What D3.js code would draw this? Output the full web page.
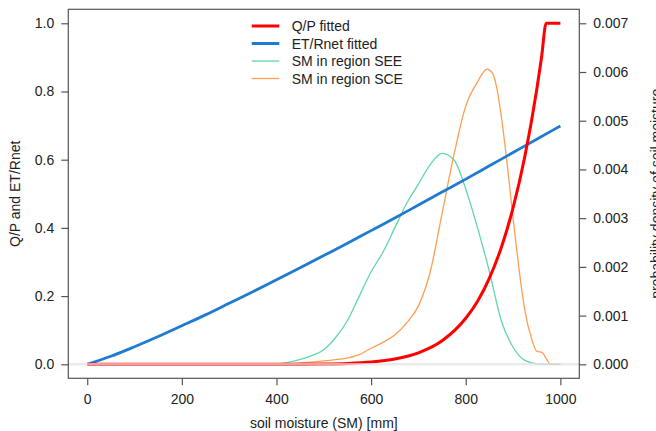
<!DOCTYPE html>
<html><head><meta charset="utf-8">
<script src="https://cdn.jsdelivr.net/npm/d3@7"></script>
<style>
html,body{margin:0;padding:0;background:#fff;overflow:hidden;}
svg{display:block;font-family:"Liberation Sans",Arial,Helvetica,sans-serif;}
</style></head>
<body>
<svg id="chart" width="656" height="431"></svg>
<script>
// ---- data ----
const qpSM  = [0, 100, 200, 300, 400, 450, 500, 550, 600, 650, 700, 750, 800, 825, 850, 875, 900, 925, 950, 960, 970, 1000];
const qpVal = [0, 0, 0, 0, 0.0001, 0.0003, 0.001, 0.0027, 0.0068, 0.0156, 0.0336, 0.069, 0.135, 0.185, 0.253, 0.342, 0.459, 0.61, 0.805, 0.898, 1.0, 1.0];

const etSM  = [0, 50, 100, 150, 200, 250, 300, 350, 400, 450, 500, 550, 600, 650, 700, 750, 800, 850, 900, 950, 1000];
const etVal = [0, 0.0235, 0.0515, 0.0814, 0.113, 0.145, 0.179, 0.213, 0.248, 0.283, 0.319, 0.355, 0.392, 0.429, 0.467, 0.505, 0.543, 0.582, 0.621, 0.660, 0.699];

const seeSM  = [0, 350, 400, 425, 450, 475, 500, 525, 550, 575, 600, 625, 650, 675, 700, 725, 750, 775, 800, 825, 850, 875, 900, 925, 950, 975, 1000];
const seeVal = [0, 0, 0.00001, 0.00004, 0.0001, 0.00018, 0.0003, 0.00055, 0.0009, 0.0014, 0.0019, 0.0023, 0.0028, 0.0033, 0.0037, 0.0041, 0.00433, 0.0042, 0.0036, 0.0028, 0.0019, 0.0009, 0.00035, 0.00008, 0.00001, 0, 0];

const sceSM  = [0, 400, 450, 500, 550, 575, 600, 625, 650, 675, 700, 725, 750, 775, 800, 825, 845, 855, 865, 875, 890, 900, 912, 925, 940, 950, 962, 970, 978, 1000];
const sceVal = [0, 0, 0.00003, 0.00007, 0.00013, 0.0002, 0.00033, 0.00045, 0.0006, 0.00085, 0.0012, 0.0019, 0.0031, 0.0043, 0.0053, 0.0058, 0.00606, 0.006, 0.0057, 0.0051, 0.0039, 0.003, 0.002, 0.0011, 0.0005, 0.00027, 0.00024, 0.00012, 0.00001, 0];

const xTicks = [0, 200, 400, 600, 800, 1000];
const yLTicks = [0, 0.2, 0.4, 0.6, 0.8, 1.0];
const yRTicks = [0, 0.001, 0.002, 0.003, 0.004, 0.005, 0.006, 0.007];

const legendLabels = ["Q/P fitted", "ET/Rnet fitted", "SM in region SEE", "SM in region SCE"];
const colors = {qp: "#ff0000", et: "#1f7ad2", see: "#62d6a8", sce: "#ff9d55"};

// ---- layout ----
const box = {left: 68.3, right: 579.3, top: 9.3, bottom: 378.3};
const x = d3.scaleLinear().domain([-40, 1040]).range([box.left, box.right]);
const yL = d3.scaleLinear().domain([-0.041, 1.041]).range([box.bottom, box.top]);
const yR = d3.scaleLinear().domain([-0.041 * 0.007, 1.041 * 0.007]).range([box.bottom, box.top]);

const svg = d3.select("#chart");
const fs = 14;
const axisColor = "#555";

function series(xs, ys) { return xs.map((v, i) => [v, ys[i]]); }

const lineL = d3.line().x(d => x(d[0])).y(d => yL(d[1])).curve(d3.curveMonotoneX);
const lineR = d3.line().x(d => x(d[0])).y(d => yR(d[1])).curve(d3.curveMonotoneX);

const plot = svg.append("g");
plot.append("path").datum(series(seeSM, seeVal)).attr("d", lineR)
  .attr("fill", "none").attr("stroke", colors.see).attr("stroke-width", 1.3);
plot.append("path").datum(series(sceSM, sceVal)).attr("d", lineR)
  .attr("fill", "none").attr("stroke", colors.sce).attr("stroke-width", 1.3);
plot.append("path").datum(series(etSM, etVal)).attr("d", lineL)
  .attr("fill", "none").attr("stroke", colors.et).attr("stroke-width", 2.8);
plot.append("path").datum(series(qpSM, qpVal)).attr("d", lineL)
  .attr("fill", "none").attr("stroke", colors.qp).attr("stroke-width", 3);

// zero line (light grey, drawn on top)
plot.append("line")
  .attr("x1", box.left).attr("x2", box.right)
  .attr("y1", yL(0)).attr("y2", yL(0))
  .attr("stroke", "#e2e2e2").attr("stroke-opacity", 0.7).attr("stroke-width", 2.5);

// frame
svg.append("rect")
  .attr("x", box.left).attr("y", box.top)
  .attr("width", box.right - box.left).attr("height", box.bottom - box.top)
  .attr("fill", "none").attr("stroke", axisColor).attr("stroke-width", 1.2);

// axes
function styleAxis(g) {
  g.select(".domain").remove();
  g.selectAll(".tick line").attr("stroke", axisColor).attr("stroke-width", 1.2);
  g.selectAll(".tick text").attr("fill", "#222").attr("font-size", fs)
    .attr("font-family", "'Liberation Sans',Arial,sans-serif");
}
const gx = svg.append("g").attr("transform", `translate(0,${box.bottom})`)
  .call(d3.axisBottom(x).tickValues(xTicks).tickFormat(d3.format("d")).tickSizeOuter(0).tickSize(7).tickPadding(9));
styleAxis(gx);

const gyl = svg.append("g").attr("transform", `translate(${box.left},0)`)
  .call(d3.axisLeft(yL).tickValues(yLTicks).tickFormat(d3.format(".1f")).tickSizeOuter(0).tickSize(7).tickPadding(7));
styleAxis(gyl);

const gyr = svg.append("g").attr("transform", `translate(${box.right},0)`)
  .call(d3.axisRight(yR).tickValues(yRTicks).tickFormat(d3.format(".3f")).tickSizeOuter(0).tickSize(7).tickPadding(7));
styleAxis(gyr);

// axis titles
svg.append("text").attr("x", (box.left + box.right) / 2).attr("y", 428)
  .attr("text-anchor", "middle").attr("font-size", fs).attr("fill", "#222")
  .text("soil moisture (SM) [mm]");
svg.append("text")
  .attr("transform", `translate(20,${(box.top + box.bottom) / 2}) rotate(-90)`)
  .attr("text-anchor", "middle").attr("font-size", fs).attr("fill", "#222")
  .text("Q/P and ET/Rnet");
svg.append("text")
  .attr("transform", `translate(661,${(box.top + box.bottom) / 2}) rotate(-90)`)
  .attr("text-anchor", "middle").attr("font-size", fs).attr("fill", "#222")
  .text("probability density of soil moisture");

// legend
const legColors = [colors.qp, colors.et, colors.see, colors.sce];
const legWidths = [3, 3, 1.3, 1.3];
const legRows = [26, 43.5, 61, 78.5];
const leg = svg.append("g");
legendLabels.forEach((lab, i) => {
  leg.append("line").attr("x1", 251.7).attr("x2", 279.3)
    .attr("y1", legRows[i]).attr("y2", legRows[i])
    .attr("stroke", legColors[i]).attr("stroke-width", legWidths[i]);
  leg.append("text").attr("x", 291.7).attr("y", legRows[i] + 5)
    .attr("font-size", fs).attr("fill", "#222").text(lab);
});
</script>
</body></html>
